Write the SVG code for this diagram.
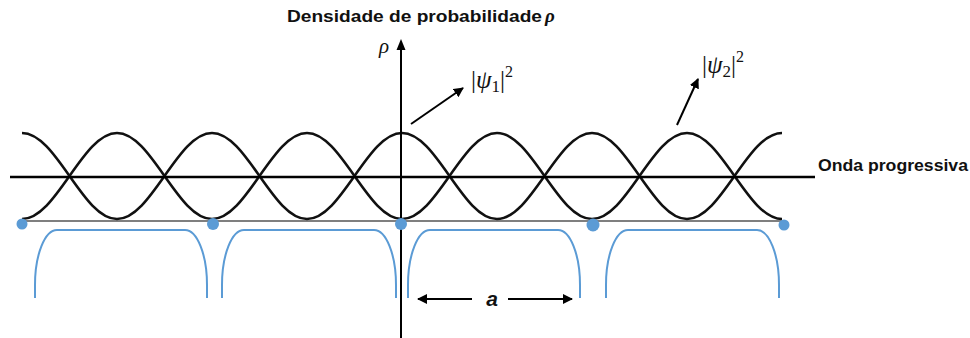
<svg xmlns="http://www.w3.org/2000/svg" width="970" height="338" viewBox="0 0 970 338">
<defs>
<style>
.curve{fill:none;stroke:#111;stroke-width:2.6;stroke-linejoin:round}
.line{fill:none;stroke:#000;stroke-width:2.6}
.base{fill:none;stroke:#555;stroke-width:1.6}
.well{fill:none;stroke:#5b9bd5;stroke-width:2}
.dot{fill:#5b9bd5}
.arr{fill:none;stroke:#000;stroke-width:2}
.lbl{font-family:"Liberation Sans",Arial,sans-serif;font-weight:bold;fill:#111}
.math{font-family:"Liberation Serif","DejaVu Serif",serif;fill:#111}
</style>
<marker id="ah" viewBox="0 0 10 10" refX="9" refY="5" markerWidth="5" markerHeight="5" orient="auto" markerUnits="strokeWidth">
<path d="M0,0 L10,5 L0,10 z" fill="#000"/>
</marker>
</defs>
<g id="title">
<text class="lbl" x="287" y="22" font-size="16" textLength="255" lengthAdjust="spacingAndGlyphs">Densidade de probabilidade</text>
<text class="math" x="545" y="22" font-size="19" font-style="italic" font-weight="bold">ρ</text>
</g>
<g id="wells">
<path class="well" d="M35,298 V285 A22,55 0 0 1 57,230 H185 A22,55 0 0 1 207,285 V298"/>
<path class="well" d="M222,298 V285 A22,55 0 0 1 244,230 H374 A22,55 0 0 1 396,285 V298"/>
<path class="well" d="M408,298 V285 A22,55 0 0 1 430,230 H558 A22,55 0 0 1 580,285 V298"/>
<path class="well" d="M606,298 V285 A22,55 0 0 1 628,230 H757 A22,55 0 0 1 779,285 V298"/>
</g>
<g id="baseline">
<line class="base" x1="22" y1="221" x2="784" y2="221"/>
</g>
<g id="psi1-curve">
<path class="curve" d="M22,133 C56.6,133 82.4,219 117,219 S177.4,133 212,133 S272.4,219 307,219 S367.4,133 402,133 S462.4,219 497,219 S557.4,133 592,133 S652.4,219 687,219 S747.4,133 782,133"/>
</g>
<g id="psi2-curve">
<path class="curve" d="M22,219 C56.6,219 82.4,133 117,133 S177.4,219 212,219 S272.4,133 307,133 S367.4,219 402,219 S462.4,133 497,133 S557.4,219 592,219 S652.4,133 687,133 S747.4,219 782,219"/>
</g>
<g id="onda-progressiva">
<line class="line" x1="10" y1="177" x2="815" y2="177"/>
<text class="lbl" x="818" y="171" font-size="17" textLength="150" lengthAdjust="spacingAndGlyphs">Onda progressiva</text>
</g>
<g id="axis">
<line x1="401" y1="338" x2="401" y2="48" stroke="#000" stroke-width="2"/>
<path d="M401,39 L405.5,50 L396.5,50 z" fill="#000"/>
<text class="math" x="379" y="53" font-size="21" font-style="italic">ρ</text>
</g>
<g id="dots">
<circle class="dot" cx="22" cy="224" r="5.5"/>
<circle class="dot" cx="213" cy="224" r="6"/>
<circle class="dot" cx="401" cy="224" r="6"/>
<circle class="dot" cx="593" cy="225" r="6.5"/>
<circle class="dot" cx="784" cy="225" r="5.5"/>
</g>
<g id="connectors">
<line class="arr" x1="411" y1="124" x2="463" y2="88" marker-end="url(#ah)"/>
<line class="arr" x1="677" y1="125" x2="698" y2="79" marker-end="url(#ah)"/>
<line class="arr" x1="472" y1="299" x2="418" y2="299" marker-end="url(#ah)"/>
<line class="arr" x1="508" y1="299" x2="572" y2="299" marker-end="url(#ah)"/>
</g>
<g id="label-psi1">
<text class="math" x="471" y="88" font-size="25">|<tspan font-style="italic">ψ</tspan><tspan font-size="17" dy="4">1</tspan><tspan dy="-4">|</tspan><tspan font-size="16" dy="-11">2</tspan></text>
</g>
<g id="label-psi2">
<text class="math" x="702" y="73" font-size="25">|<tspan font-style="italic">ψ</tspan><tspan font-size="17" dy="4">2</tspan><tspan dy="-4">|</tspan><tspan font-size="16" dy="-11">2</tspan></text>
</g>
<g id="label-a">
<text class="lbl" x="492" y="306" font-size="21" font-style="italic" text-anchor="middle">a</text>
</g>
</svg>
